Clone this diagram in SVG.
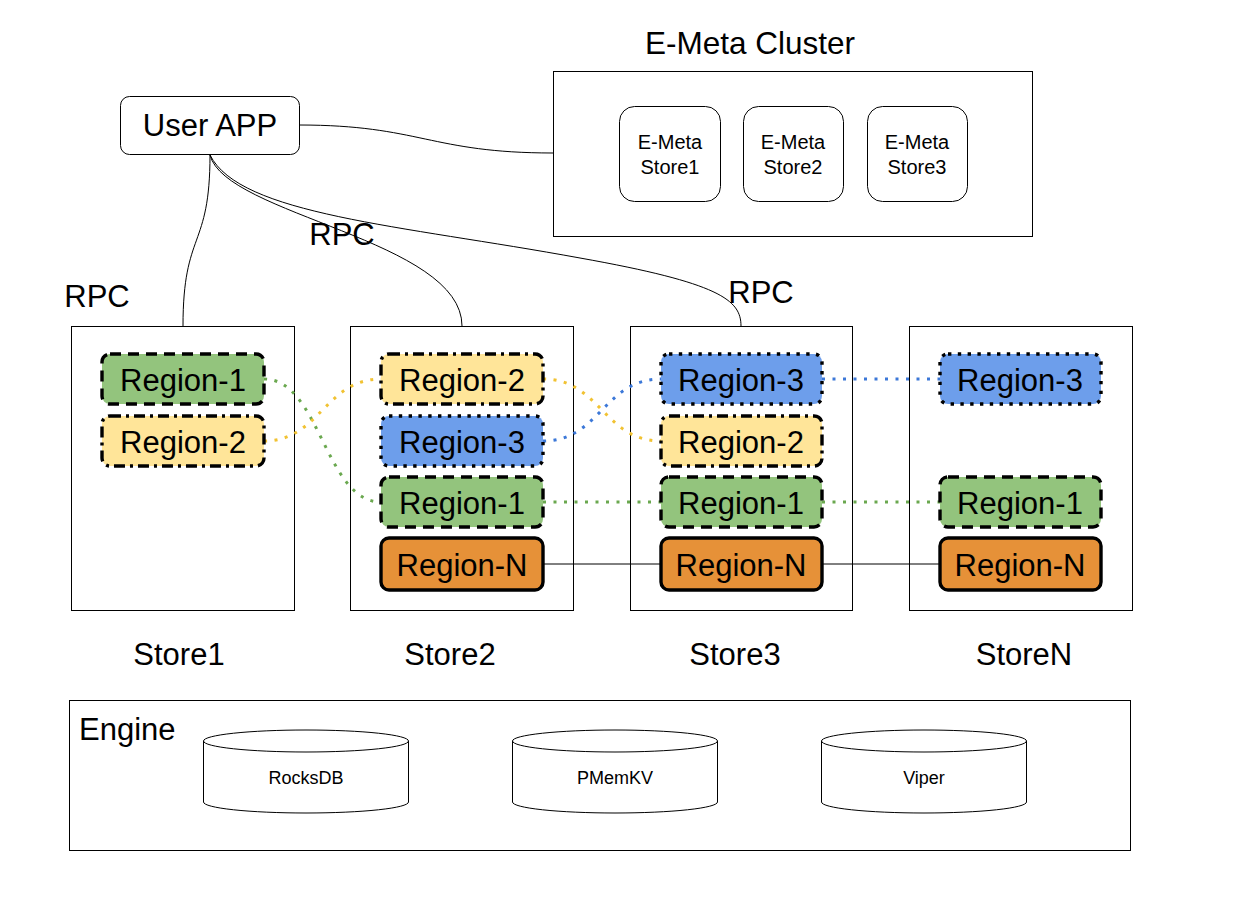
<svg xmlns="http://www.w3.org/2000/svg" width="1242" height="915" viewBox="0 0 1242 915">
<style>
text{font-family:"Liberation Sans",Arial,sans-serif;fill:#000}
.box{fill:#fff;stroke:#000;stroke-width:1}
.big{font-size:31px}
.lbl{font-size:31px;text-anchor:middle}
.sm{font-size:20px;text-anchor:middle}
.db{font-size:18px;text-anchor:middle}
.reg{stroke:#000;stroke-width:3.4}
.r1{fill:#93c47d;stroke-dasharray:11 7}
.r2{fill:#ffe599;stroke-dasharray:11 5 3 5}
.r3{fill:#6d9eeb;stroke-dasharray:3.4 6.4}
.rn{fill:#e69138}
.conn{fill:none;stroke:#000;stroke-width:1}
.dg{fill:none;stroke:#6aa84f;stroke-width:3;stroke-dasharray:3 7.5}
.dy{fill:none;stroke:#f1c232;stroke-width:3;stroke-dasharray:3 7.5}
.dbl{fill:none;stroke:#3c78d8;stroke-width:3;stroke-dasharray:3 7.5}
</style>

<g id="emeta-cluster">
<text x="750" y="54" class="lbl" style="font-size:31.5px">E-Meta Cluster</text>
<rect x="553.5" y="71.5" width="479" height="165" class="box"/>
</g>
<g id="emeta-store1"><rect x="619.5" y="106.5" width="101" height="95" rx="15" class="box"/><text x="670" y="149" class="sm">E-Meta</text><text x="670" y="174" class="sm">Store1</text></g>
<g id="emeta-store2"><rect x="743.5" y="106.5" width="100" height="95" rx="15" class="box"/><text x="793" y="149" class="sm">E-Meta</text><text x="793" y="174" class="sm">Store2</text></g>
<g id="emeta-store3"><rect x="867.5" y="106.5" width="100" height="95" rx="15" class="box"/><text x="917" y="149" class="sm">E-Meta</text><text x="917" y="174" class="sm">Store3</text></g>

<g id="user-app"><rect x="120.5" y="96.5" width="179" height="58" rx="9" class="box"/><text x="210" y="136" class="lbl">User APP</text></g>

<g id="store1"><rect x="71.5" y="326.5" width="223" height="284" class="box"/><text x="179" y="665" class="lbl">Store1</text></g>
<g id="store2"><rect x="350.5" y="326.5" width="223" height="284" class="box"/><text x="450" y="665" class="lbl">Store2</text></g>
<g id="store3"><rect x="630.5" y="326.5" width="222" height="284" class="box"/><text x="735" y="665" class="lbl">Store3</text></g>
<g id="storeN"><rect x="909.5" y="326.5" width="223" height="284" class="box"/><text x="1024" y="665" class="lbl">StoreN</text></g>

<g id="connectors">
<path class="conn" d="M299,125 C420,125 430,153 553,153"/>
<path class="conn" d="M210,155 C210,250 183,230 183,326"/>
<path class="conn" d="M210,155 C225,215 462,240 462,326"/>
<path class="conn" d="M210,155 C240,215 400,225 580,258 C720,283 741,300 741,326"/>
<path class="dg" d="M264,379 C320,379 325,502 381,502"/>
<path class="dy" d="M264,441 C320,441 325,379 381,379"/>
<path class="dy" d="M543,379 C600,379 604,441 661,441"/>
<path class="dbl" d="M543,441 C600,441 604,379 661,379"/>
<path class="dbl" d="M822,379 L940,379"/>
<path class="dg" d="M543,502 L661,502"/>
<path class="dg" d="M822,502 L940,502"/>
<path class="conn" d="M543,564 L661,564"/>
<path class="conn" d="M822,564 L940,564"/>
</g>

<g id="rpc-labels">
<text x="97" y="307" class="lbl">RPC</text>
<text x="342" y="245" class="lbl">RPC</text>
<text x="761" y="303" class="lbl">RPC</text>
</g>

<g id="s1-region1"><rect x="102" y="354" width="162" height="50" rx="8" class="reg r1"/><text x="183" y="391" class="lbl">Region-1</text></g>
<g id="s1-region2"><rect x="102" y="416" width="162" height="50" rx="8" class="reg r2"/><text x="183" y="453" class="lbl">Region-2</text></g>

<g id="s2-region2"><rect x="381" y="354" width="162" height="50" rx="8" class="reg r2"/><text x="462" y="391" class="lbl">Region-2</text></g>
<g id="s2-region3"><rect x="381" y="416" width="162" height="50" rx="8" class="reg r3"/><text x="462" y="453" class="lbl">Region-3</text></g>
<g id="s2-region1"><rect x="381" y="477" width="162" height="50" rx="8" class="reg r1"/><text x="462" y="514" class="lbl">Region-1</text></g>
<g id="s2-regionN"><rect x="381" y="538" width="162" height="52" rx="8" class="reg rn"/><text x="462" y="576" class="lbl">Region-N</text></g>

<g id="s3-region3"><rect x="661" y="354" width="161" height="50" rx="8" class="reg r3"/><text x="741" y="391" class="lbl">Region-3</text></g>
<g id="s3-region2"><rect x="661" y="416" width="161" height="50" rx="8" class="reg r2"/><text x="741" y="453" class="lbl">Region-2</text></g>
<g id="s3-region1"><rect x="661" y="477" width="161" height="50" rx="8" class="reg r1"/><text x="741" y="514" class="lbl">Region-1</text></g>
<g id="s3-regionN"><rect x="661" y="538" width="161" height="52" rx="8" class="reg rn"/><text x="741" y="576" class="lbl">Region-N</text></g>

<g id="sN-region3"><rect x="940" y="354" width="161" height="50" rx="8" class="reg r3"/><text x="1020" y="391" class="lbl">Region-3</text></g>
<g id="sN-region1"><rect x="940" y="477" width="161" height="50" rx="8" class="reg r1"/><text x="1020" y="514" class="lbl">Region-1</text></g>
<g id="sN-regionN"><rect x="940" y="538" width="161" height="52" rx="8" class="reg rn"/><text x="1020" y="576" class="lbl">Region-N</text></g>

<g id="engine">
<rect x="69.5" y="700.5" width="1061" height="150" class="box"/>
<text x="79" y="740" class="big">Engine</text>
</g>
<g id="rocksdb">
<path class="box" d="M203.5,741 A102.5,11 0 0 1 408.5,741 L408.5,802 A102.5,11 0 0 1 203.5,802 Z"/>
<path class="conn" d="M203.5,741 A102.5,11 0 0 0 408.5,741"/>
<text x="306" y="784" class="db">RocksDB</text>
</g>
<g id="pmemkv">
<path class="box" d="M512.5,741 A102.5,11 0 0 1 717.5,741 L717.5,802 A102.5,11 0 0 1 512.5,802 Z"/>
<path class="conn" d="M512.5,741 A102.5,11 0 0 0 717.5,741"/>
<text x="615" y="784" class="db">PMemKV</text>
</g>
<g id="viper">
<path class="box" d="M821.5,741 A102.5,11 0 0 1 1026.5,741 L1026.5,802 A102.5,11 0 0 1 821.5,802 Z"/>
<path class="conn" d="M821.5,741 A102.5,11 0 0 0 1026.5,741"/>
<text x="924" y="784" class="db">Viper</text>
</g>
</svg>
